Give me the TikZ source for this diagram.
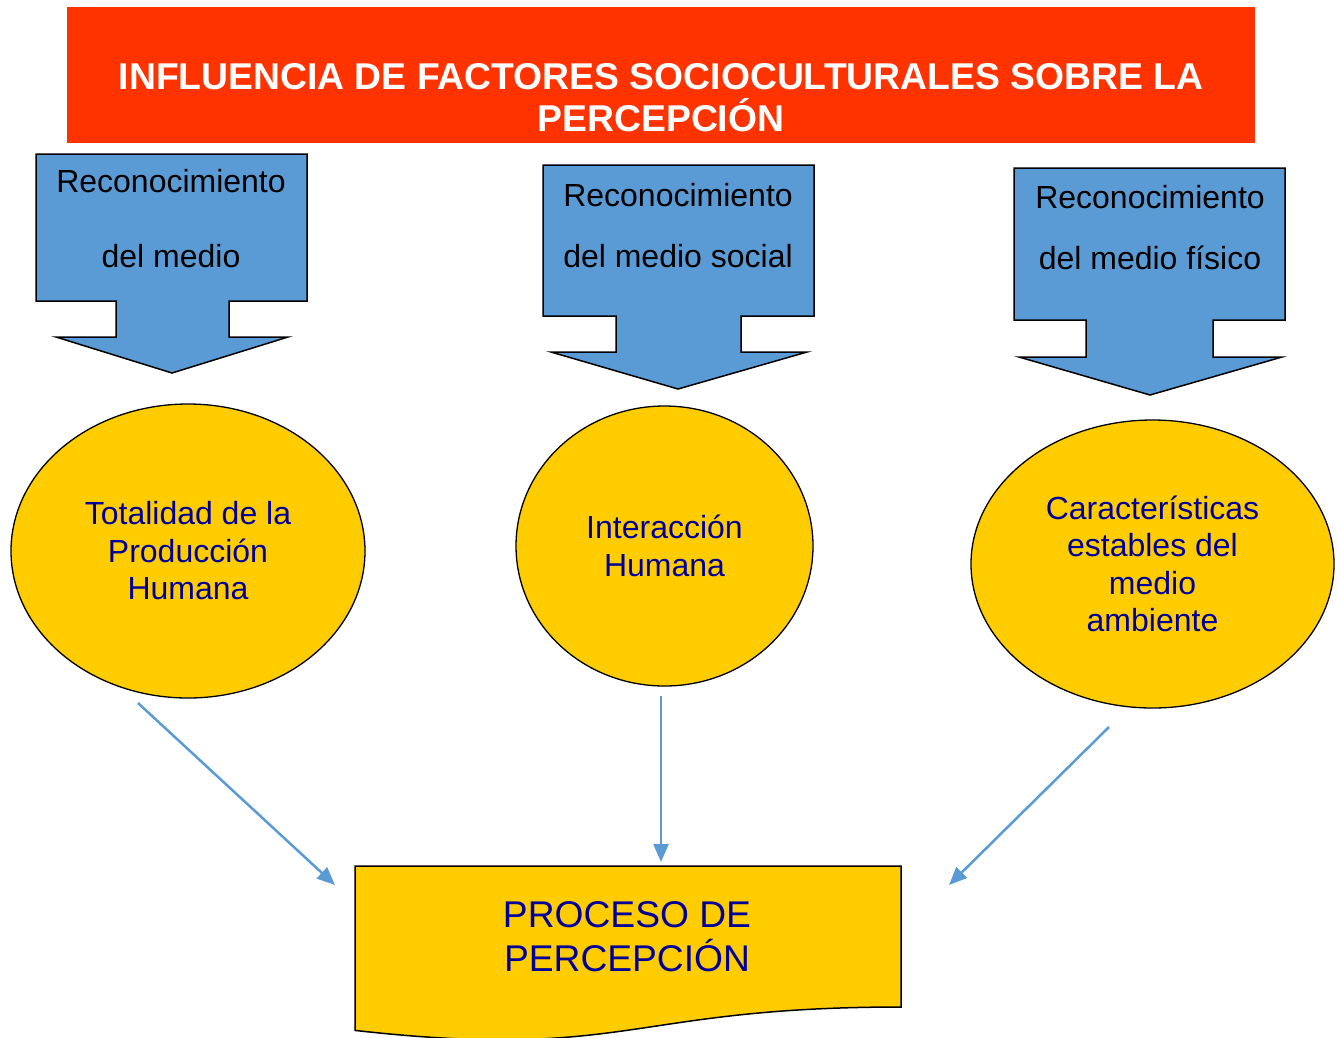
\documentclass[tikz,border=0pt]{standalone}
\usepackage{fontspec}
\setmainfont{Liberation Sans}
\usetikzlibrary{shapes.geometric,arrows.meta}
\definecolor{titlered}{HTML}{FF3300}
\definecolor{arrowblue}{HTML}{5B9BD5}
\definecolor{ellyellow}{HTML}{FFCC00}
\definecolor{textnavy}{HTML}{000099}
\tikzset{
  blockarrow/.style={fill=arrowblue, draw=black, line width=1.5pt, line join=miter},
  arrowtext/.style={align=center, text=black, inner sep=0pt},
  bubble/.style={ellipse, draw=black, fill=ellyellow, line width=1.3pt, inner sep=0pt,
    text=textnavy, align=center, font=\fontsize{32}{37.5}\selectfont},
  connector/.style={draw=arrowblue, line width=2.5pt, -{Triangle[length=18pt,width=15pt]}},
  docshape/.style={fill=ellyellow, draw=black, line width=1.5pt, line join=miter}
}
\begin{document}
\begin{tikzpicture}[x=1pt,y=-1pt]
\useasboundingbox (0,0) rectangle (1338,1037);
% title
\node[fill=titlered, minimum width=1188pt, minimum height=136pt, inner sep=0pt] (titlebox) at (661,75) {};
\node[text=white, align=center, inner sep=0pt, font=\bfseries\fontsize{37.3}{42}\selectfont] (title) at (661,97.6)
  {INFLUENCIA DE FACTORES SOCIOCULTURALES SOBRE LA\\PERCEPCIÓN};
% block arrows
\draw[blockarrow] (36,154) -- (307,154) -- (307,301) -- (229,301) -- (229,337) -- (288,337)
  -- (172,373) -- (56,337) -- (116,337) -- (116,301) -- (36,301) -- cycle;
\node[arrowtext, font=\fontsize{32}{75}\selectfont] (a1) at (171,218.8) {Reconocimiento\\del medio};
\draw[blockarrow] (543,165) -- (814,165) -- (814,316) -- (741,316) -- (741,352) -- (807,352)
  -- (678,389) -- (551,352) -- (616,352) -- (616,316) -- (543,316) -- cycle;
\node[arrowtext, font=\fontsize{32}{61}\selectfont] (a2) at (678,225.8) {Reconocimiento\\del medio social};
\draw[blockarrow] (1014,168) -- (1285,168) -- (1285,320) -- (1213,320) -- (1213,357) -- (1282,357)
  -- (1150,395) -- (1019,357) -- (1086,357) -- (1086,320) -- (1014,320) -- cycle;
\node[arrowtext, font=\fontsize{32}{61}\selectfont] (a3) at (1150,227.8) {Reconocimiento\\del medio físico};
% ellipses
\node[bubble, minimum width=354pt, minimum height=294pt] (e1) at (188,551) {Totalidad de la\\Producción\\Humana};
\node[bubble, minimum width=297pt, minimum height=280pt] (e2) at (664.5,546) {Interacción\\Humana};
\node[bubble, minimum width=363pt, minimum height=288pt] (e3) at (1152.5,564) {Características\\estables del\\medio\\ambiente};
% document shape
\draw[docshape] (355,866) -- (901,866) -- (901,1007)
  .. controls (628,1007) and (628,1061) .. (355,1030.4) -- cycle;
\node[text=textnavy, align=center, inner sep=0pt, font=\fontsize{37.2}{44}\selectfont] (proc) at (627,936.2)
  {PROCESO DE\\PERCEPCIÓN};
% connectors
\coordinate (c1s) at (138,703);
\coordinate (c1e) at (335,885);
\coordinate (c2s) at (661,696);
\coordinate (c2e) at (661,862);
\coordinate (c3s) at (1109,727);
\coordinate (c3e) at (949,885);
\draw[connector] (c1s) -- (c1e);
\draw[connector] (c2s) -- (c2e);
\draw[connector] (c3s) -- (c3e);
\end{tikzpicture}
\end{document}
